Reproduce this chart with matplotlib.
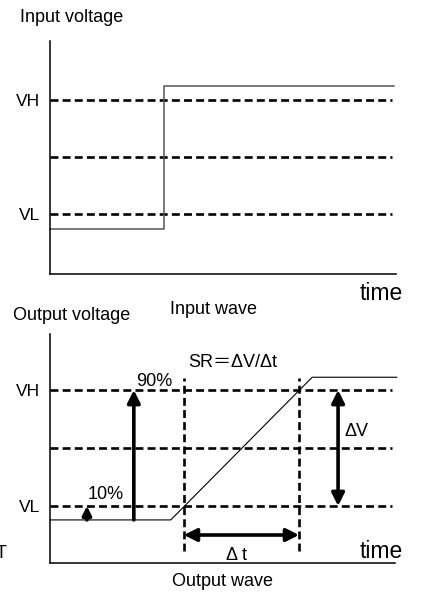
import matplotlib
matplotlib.use("Agg")
from matplotlib import pyplot as plt

plt.rcParams['font.family'] = ['Liberation Sans', 'Noto Sans CJK SC', 'DejaVu Sans']

# levels (both panels)
VL, VMID, VH = 1.0, 2.0, 3.0

# input wave: step
in_t = [0.0, 3.3, 3.3, 9.95]
in_v = [0.74, 0.74, 3.25, 3.25]

# output wave: ramp
out_t = [0.0, 3.5, 7.6, 10.05]
out_v = [0.76, 0.76, 3.22, 3.22]
t10, t90 = 3.88, 7.22          # time at 10% / 90%
arr10_t, arr90_t = 1.07, 2.43  # positions of the 10% / 90% arrows
dv_t = 8.35                    # position of the delta V arrow
dt_v = 0.5                     # level of the delta t arrow

fig = plt.figure(figsize=(4.22, 6.07), dpi=100)
ax1 = fig.add_axes([50/422, 1-274/607, 346/422, 233/607])
ax2 = fig.add_axes([50/422, 1-563/607, 345/422, 229/607])

dash = dict(color='black', lw=1.9, linestyle=(0, (3.0, 1.6)))

for ax in (ax1, ax2):
    for s in ('top', 'right'):
        ax.spines[s].set_visible(False)
    for s in ('left', 'bottom'):
        ax.spines[s].set_linewidth(1.1)
    ax.set_xlim(0, 10)
    ax.set_xticks([])
    ax.set_yticks([VL, VH], ['VL', 'VH'])
    ax.tick_params(axis='y', length=0, pad=7, labelsize=12.5)

ax1.set_ylim(-0.05, 4.04)
ax2.set_ylim(1 - 57/58, 1 + 172/58)

# top panel
for lv in (VL, VMID, VH):
    ax1.plot([0, 9.88], [lv, lv], **dash)
ax1.plot(in_t, in_v, color='#555555', lw=1.1, clip_on=False)

# bottom panel
for lv in (VL, VMID, VH):
    ax2.plot([0, 9.91], [lv, lv], **dash)
for tt in (t10, t90):
    ax2.plot([tt, tt], [0.22, 3.21], **dash)
ax2.plot(out_t, out_v, color='black', lw=0.8, clip_on=False)

ap = dict(arrowstyle='-|>', lw=2.6, color='black', mutation_scale=19,
          shrinkA=0, shrinkB=0)
ap2 = dict(ap, arrowstyle='<|-|>')
ax2.annotate('', xy=(arr10_t, VL), xytext=(arr10_t, out_v[0]), arrowprops=dict(ap, mutation_scale=13))
ax2.annotate('', xy=(arr90_t, VH), xytext=(arr90_t, out_v[0]), arrowprops=ap)
ax2.annotate('', xy=(dv_t, VH), xytext=(dv_t, VL), arrowprops=ap2)
ax2.annotate('', xy=(t90, dt_v), xytext=(t10, dt_v), arrowprops=ap2)

fs = 13
ax2.text(1.1, 1.19, '10%', fontsize=fs, va='center')
ax2.text(2.49, 3.14, '90%', fontsize=fs, va='center')
ax2.text(4.0, 3.48, 'SR＝ΔV/Δt', fontsize=fs, va='center')
ax2.text(8.55, 2.28, 'ΔV', fontsize=fs, va='center')
ax2.text(5.42, 0.155, 'Δ t', fontsize=fs, va='center', ha='center')

fig.text(20/422, 1-17/607, 'Input voltage', fontsize=fs, va='center')
fig.text(13/422, 1-316/607, 'Output voltage', fontsize=fs, va='center')
fig.text(214/422, 1-309/607, 'Input wave', fontsize=fs, va='center', ha='center')
fig.text(222/422, 1-581/607, 'Output wave', fontsize=fs, va='center', ha='center')
fig.text(403/422, 1-294/607, 'time', fontsize=16.5, va='center', ha='right')
fig.text(403/422, 1-552/607, 'time', fontsize=16.5, va='center', ha='right')
# the reference shows this letter cut by the left edge
fig.text(6/422, 1-553/607, 'T', fontsize=fs, va='center', ha='right')

fig.savefig('out.png', dpi=100)
